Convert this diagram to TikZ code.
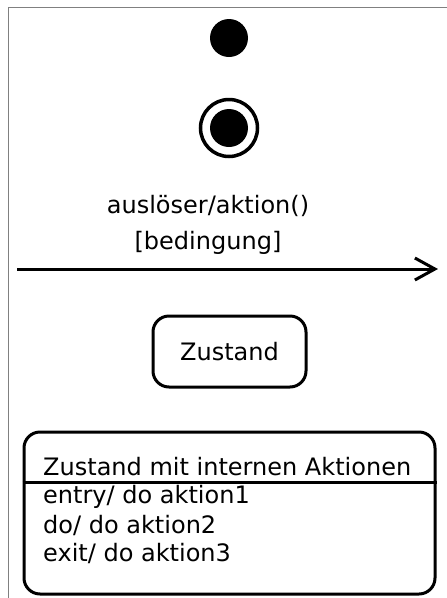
\documentclass[tikz,border=0pt]{standalone}
\usepackage{fontspec}
\setmainfont{DejaVu Sans}
\usetikzlibrary{arrows.meta}
\begin{document}
\begin{tikzpicture}[x=1pt,y=-1pt,
  line/.style={line width=3pt},
  txt/.style={font=\fontsize{24}{28}\selectfont, inner sep=0pt},
  statebox/.style={draw, line width=3pt, rounded corners=16pt}]
\useasboundingbox (0,0) rectangle (447,598);
% outer frame
\draw[gray, line width=1.5pt] (8.5,598) -- (8.5,7.5) -- (447,7.5);
% initial state
\fill (229,38) circle (19);
% final state
\draw[line width=3.5pt] (229,128) circle (28.5);
\fill (229,128) circle (19);
% transition
\node[txt] (trig) at (208,206) {auslöser/aktion()};
\node[txt] (guard) at (208,243) {[bedingung]};
\coordinate (tstart) at (17,269);
\coordinate (tend) at (438,269);
\draw[line, -{Straight Barb[length=20pt,width=22pt,line width=3pt]}] (tstart) -- (tend);
% simple state
\node[statebox, minimum width=153pt, minimum height=71pt, txt] (z) at (229.5,351.5) {Zustand};
% state with internal actions
\node[statebox, minimum width=411pt, minimum height=162pt] (za) at (229.5,513) {};
\draw[line] (za.west |- 0,482) -- (za.east |- 0,482);
\node[txt, anchor=base west] (zt) at (43,475) {Zustand mit internen Aktionen};
\node[txt, anchor=west] (a1) at (43,497) {entry/ do aktion1};
\node[txt, anchor=west] (a2) at (43,525) {do/ do aktion2};
\node[txt, anchor=west] (a3) at (43,553) {exit/ do aktion3};
\end{tikzpicture}
\end{document}
